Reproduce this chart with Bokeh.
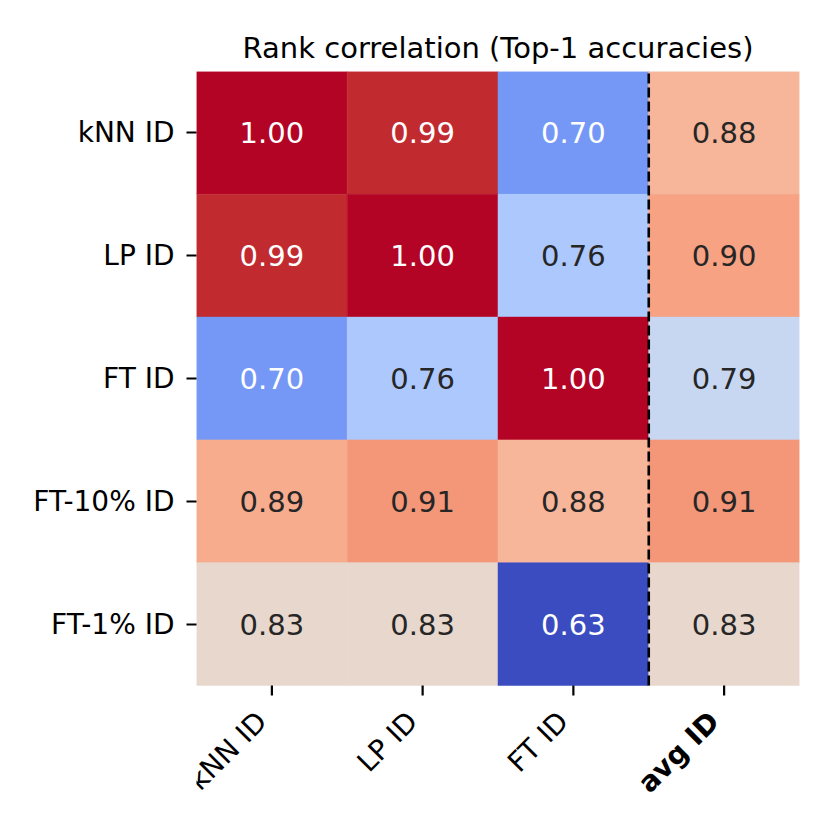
import numpy as np
from bokeh.plotting import figure
from bokeh.models import Range1d, FixedTicker, ColumnDataSource
from bokeh.embed import file_html
from bokeh.resources import INLINE
from bokeh.core.properties import value

# ---- data ----
title_text = "Rank correlation (Top-1 accuracies)"
row_labels = ["kNN ID", "LP ID", "FT ID", "FT-10% ID", "FT-1% ID"]
col_labels = ["kNN ID", "LP ID", "FT ID", "avg ID"]
bold_cols = ["avg ID"]
vals_knn = [1.00, 0.987, 0.697, 0.88]
vals_lp = [0.987, 1.00, 0.756, 0.90]
vals_ft = [0.697, 0.756, 1.00, 0.786]
vals_ft10 = [0.89, 0.91, 0.88, 0.91]
vals_ft1 = [0.83, 0.83, 0.63, 0.83]
matrix = [vals_knn, vals_lp, vals_ft, vals_ft10, vals_ft1]
split_after = 3  # dashed separator before the "avg" column

# ---- coolwarm colormap (Moreland) ----
CW = [(59,76,192),(68,90,204),(77,104,215),(87,117,225),(98,130,234),(108,142,241),
      (119,154,247),(130,165,251),(141,176,254),(152,185,255),(163,194,255),(174,201,253),
      (184,208,249),(194,213,244),(204,217,238),(213,219,230),(221,221,221),(229,216,209),
      (236,211,197),(241,204,185),(245,196,173),(247,187,160),(247,177,148),(247,166,135),
      (244,154,123),(241,141,111),(236,127,99),(229,112,88),(222,96,77),(213,80,66),
      (203,62,56),(192,40,47),(180,4,38)]
CW = np.array(CW, dtype=float)
pos = np.linspace(0, 1, len(CW))

flat = [v for r in matrix for v in r]
vmin, vmax = min(flat), max(flat)

def cmap(v):
    t = (v - vmin) / (vmax - vmin)
    return [np.interp(t, pos, CW[:, k]) for k in range(3)]

def hexc(rgb):
    return "#%02x%02x%02x" % tuple(int(round(c)) for c in rgb)

def lum(rgb):
    out = []
    for c in rgb:
        c = c / 255.0
        out.append(c / 12.92 if c <= 0.03928 else ((c + 0.055) / 1.055) ** 2.4)
    return 0.2126 * out[0] + 0.7152 * out[1] + 0.0722 * out[2]

n_rows, n_cols = len(row_labels), len(col_labels)
xs, ys, cols, txt, tcol = [], [], [], [], []
for ri in range(n_rows):
    for ci in range(n_cols):
        v = matrix[ri][ci]
        rgb = cmap(v)
        xs.append(ci + 0.5)
        ys.append(n_rows - ri - 0.5)
        cols.append(hexc(rgb))
        txt.append("%.2f" % v)
        tcol.append("#262626" if lum(rgb) > 0.408 else "#ffffff")

src = ColumnDataSource(dict(x=xs, y=ys, color=cols, text=txt, tcolor=tcol))

FONT = "DejaVu Sans"
W, H = 830, 830
BL, BR, BT, BB = 196, 31, 71, 2
heat_px = 614                       # pixel height of the heatmap block
frame_h = H - BT - BB
ymin = n_rows - frame_h / (heat_px / n_rows)

p = figure(width=W, height=H, output_backend="svg", toolbar_location=None,
           x_range=Range1d(0, n_cols), y_range=Range1d(ymin, n_rows),
           min_border_left=BL, min_border_right=BR, min_border_top=BT, min_border_bottom=BB,
           title=title_text)
p.title.align = "center"
p.title.text_font = FONT
p.title.text_font_size = "29px"
p.title.text_font_style = "normal"
p.title.text_color = "black"
p.title.standoff = 14
p.outline_line_color = None
p.grid.grid_line_color = None
p.xaxis.visible = False

p.rect(x="x", y="y", width=1, height=1, fill_color="color", line_color="color",
       line_width=0.5, source=src)
p.text(x="x", y="y", text="text", text_color="tcolor", text_align="center",
       text_baseline="middle", text_font=value(FONT), text_font_size="29px", source=src)

# dashed separator
p.segment(x0=[split_after], y0=[0], x1=[split_after], y1=[n_rows],
          line_color="black", line_width=2.6, line_dash="10 4")

# y axis
ya = p.yaxis[0]
ya.ticker = FixedTicker(ticks=[n_rows - i - 0.5 for i in range(n_rows)])
ya.major_label_overrides = {n_rows - i - 0.5: lab for i, lab in enumerate(row_labels)}
ya.axis_line_color = None
ya.major_tick_line_color = "black"
ya.major_tick_line_width = 2.2
ya.major_tick_out = 10
ya.major_tick_in = 0
ya.minor_tick_line_color = None
ya.major_label_text_font = FONT
ya.major_label_text_font_size = "28px"
ya.major_label_text_color = "black"
ya.major_label_standoff = 12

# x ticks and labels (drawn as glyphs below the heatmap)
xc = [i + 0.5 for i in range(n_cols)]
p.ray(x=xc, y=[0] * n_cols, length=10, length_units="screen", angle=-np.pi / 2,
      line_color="black", line_width=2.2)
xsrc = ColumnDataSource(dict(x=xc, y=[0] * n_cols, text=col_labels,
                             style=["bold" if c in bold_cols else "normal" for c in col_labels]))
p.text(x="x", y="y", text="text", source=xsrc, angle=np.pi / 4,
       text_align="right", text_baseline="middle", x_offset=-10, y_offset=31,
       text_font=value(FONT), text_font_size="28px", text_font_style="style",
       text_color="black")

open("out.html", "w").write(file_html(p, INLINE))
